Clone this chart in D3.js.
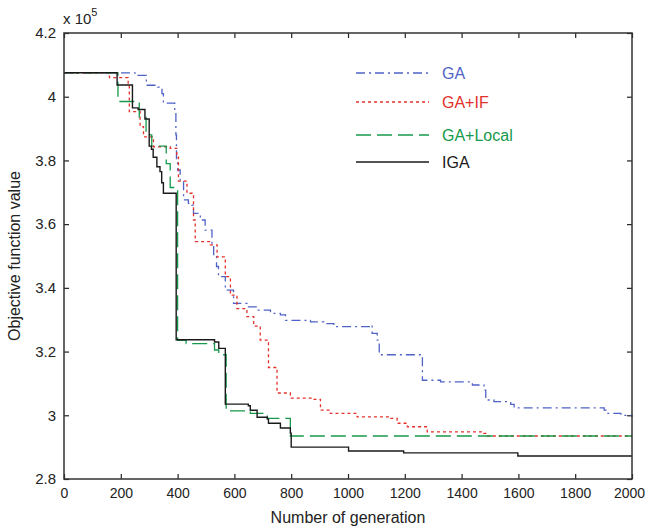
<!DOCTYPE html>
<html>
<head>
<meta charset="utf-8">
<script src="https://cdn.jsdelivr.net/npm/d3@7"></script>
<style>
  body { margin: 0; background: #fff; }
  svg text { font-family: "Liberation Sans", Arial, sans-serif; }
</style>
</head>
<body>
<div id="chart"></div>
<script>
// values in units of 1e5, [generation, objective]
var gaData = [[0,4.075],[250,4.067],[290,4.036],[330,4.03],[345,4.01],[350,3.98],[390,3.95],[394,3.88],
  [396,3.80],[400,3.77],[409,3.738],[421,3.676],[438,3.665],[450,3.66],[456,3.634],[480,3.613],[497,3.581],
  [521,3.529],[527,3.498],[537,3.467],[544,3.435],[568,3.393],[597,3.351],[644,3.34],[680,3.33],[727,3.32],
  [762,3.315],[780,3.298],[868,3.293],[915,3.288],[950,3.278],[1075,3.283],[1085,3.257],[1103,3.236],
  [1110,3.19],[1255,3.185],[1262,3.11],[1326,3.105],[1438,3.095],[1479,3.079],[1485,3.048],[1514,3.043],
  [1573,3.034],[1585,3.023],[1902,3.016],[1908,3.006],[1961,3.0],[2000,2.995]];

var gaIfData = [[0,4.075],[160,4.06],[226,4.04],[230,3.953],[268,3.906],[280,3.874],[315,3.843],[374,3.838],
  [397,3.81],[403,3.735],[433,3.697],[456,3.613],[462,3.545],[515,3.535],[539,3.497],[568,3.435],[586,3.377],
  [609,3.335],[644,3.31],[668,3.28],[691,3.236],[720,3.15],[750,3.07],[797,3.054],[878,3.05],[903,3.016],
  [938,3.006],[1032,2.995],[1150,2.99],[1173,2.975],[1209,2.964],[1279,2.948],[1478,2.943],[1491,2.935],
  [2000,2.935]];

var gaLocalData = [[0,4.075],[190,3.985],[265,3.935],[289,3.88],[309,3.845],[360,3.79],[374,3.715],
  [400,3.235],[430,3.225],[530,3.205],[545,3.19],[571,3.014],[656,3.006],[716,2.99],[797,2.935],[2000,2.935]];

var igaData = [[0,4.075],[187,4.037],[241,3.965],[261,3.96],[285,3.93],[300,3.845],[308,3.835],[314,3.81],
  [327,3.78],[338,3.765],[344,3.73],[350,3.697],[395,3.237],[530,3.23],[545,3.21],[568,3.035],[649,3.03],
  [656,3.016],[680,2.994],[716,2.988],[720,2.975],[762,2.96],[797,2.944],[800,2.90],[1002,2.888],
  [1196,2.882],[1598,2.872],[2000,2.872]];

var xTicks = [0, 200, 400, 600, 800, 1000, 1200, 1400, 1600, 1800, 2000];
var yTicks = [2.8, 3, 3.2, 3.4, 3.6, 3.8, 4, 4.2];

var seriesNames = ["GA", "GA+IF", "GA+Local", "IGA"];
var seriesData = [gaData, gaIfData, gaLocalData, igaData];
var seriesColors = ["#4f63c6", "#e3312b", "#17994a", "#1a1a1a"];
var seriesDash = ["9,4,2,4", "3,3", "15,6", null];

var width = 647, height = 532;
var margin = {left: 64, right: 15, top: 33, bottom: 53};

var svg = d3.select("#chart").append("svg")
    .attr("width", width)
    .attr("height", height);

var x = d3.scaleLinear().domain([0, 2000]).range([margin.left, width - margin.right]);
var y = d3.scaleLinear().domain([2.8, 4.2]).range([height - margin.bottom, margin.top]);

var fmt = function (d) { return d3.format("")(+d.toFixed(1)); };

// axes, ticks point inward like matlab
var tl = 5;
var xAx = svg.append("g")
    .attr("transform", "translate(0," + y(2.8) + ")")
    .call(d3.axisBottom(x).tickValues(xTicks).tickSize(-tl).tickPadding(9).tickFormat(d3.format("d")))
    .call(function (g) { g.select(".domain").remove(); });
svg.append("g")
    .attr("transform", "translate(0," + y(4.2) + ")")
    .call(d3.axisTop(x).tickValues(xTicks).tickSize(-tl).tickFormat(""))
    .call(function (g) { g.select(".domain").remove(); });
svg.append("g")
    .attr("transform", "translate(" + x(0) + ",0)")
    .call(d3.axisLeft(y).tickValues(yTicks).tickSize(-tl).tickPadding(8).tickFormat(fmt))
    .call(function (g) { g.select(".domain").remove(); });
svg.append("g")
    .attr("transform", "translate(" + x(2000) + ",0)")
    .call(d3.axisRight(y).tickValues(yTicks).tickSize(-tl).tickFormat(""))
    .call(function (g) { g.select(".domain").remove(); });

svg.selectAll(".tick line").attr("stroke", "#222").attr("stroke-width", 1.2);
svg.selectAll(".tick text").attr("fill", "#222").style("font-size", "15px");
xAx.selectAll(".tick text").style("font-size", "14px");
// keep the last label inside the window
xAx.selectAll(".tick text").filter(function (d) { return d == 2000; }).attr("dx", -3);

// lines
var line = d3.line()
    .x(function (d) { return x(d[0]); })
    .y(function (d) { return y(d[1]); })
    .curve(d3.curveStepAfter);

svg.selectAll(".series")
    .data(seriesData)
    .enter().append("path")
    .attr("class", "series")
    .attr("d", line)
    .attr("fill", "none")
    .attr("stroke", function (d, i) { return seriesColors[i]; })
    .attr("stroke-width", function (d, i) { return i == 3 ? 1.4 : 1.3; })
    .attr("stroke-dasharray", function (d, i) { return seriesDash[i]; });

// frame
svg.append("rect")
    .attr("x", x(0)).attr("y", y(4.2))
    .attr("width", x(2000) - x(0)).attr("height", y(2.8) - y(4.2))
    .attr("fill", "none").attr("stroke", "#333").attr("stroke-width", 1.5);

// legend
var legY = [73, 102, 135, 162];
var leg = svg.selectAll(".leg")
    .data(seriesNames)
    .enter().append("g")
    .attr("class", "leg")
    .attr("transform", function (d, i) { return "translate(356," + legY[i] + ")"; });
leg.append("line")
    .attr("x1", 0).attr("x2", 73)
    .attr("stroke", function (d, i) { return seriesColors[i]; })
    .attr("stroke-width", 1.3)
    .attr("stroke-dasharray", function (d, i) { return seriesDash[i]; });
leg.append("text")
    .attr("x", 86).attr("y", 6)
    .attr("fill", function (d, i) { return seriesColors[i]; })
    .style("font-size", "16px")
    .text(function (d) { return d; });

// axis labels
svg.append("text")
    .attr("x", (x(0) + x(2000)) / 2).attr("y", 523)
    .attr("text-anchor", "middle")
    .attr("fill", "#222")
    .style("font-size", "16px")
    .text("Number of generation");
svg.append("text")
    .attr("transform", "translate(20," + (y(3.5)) + ") rotate(-90)")
    .attr("text-anchor", "middle")
    .attr("fill", "#222")
    .style("font-size", "16px")
    .text("Objective function value");

var mult = svg.append("text")
    .attr("x", 63).attr("y", 24)
    .attr("fill", "#222")
    .style("font-size", "15px");
mult.append("tspan").text("x 10");
mult.append("tspan").attr("dy", -8).style("font-size", "11px").text("5");
</script>
</body>
</html>
